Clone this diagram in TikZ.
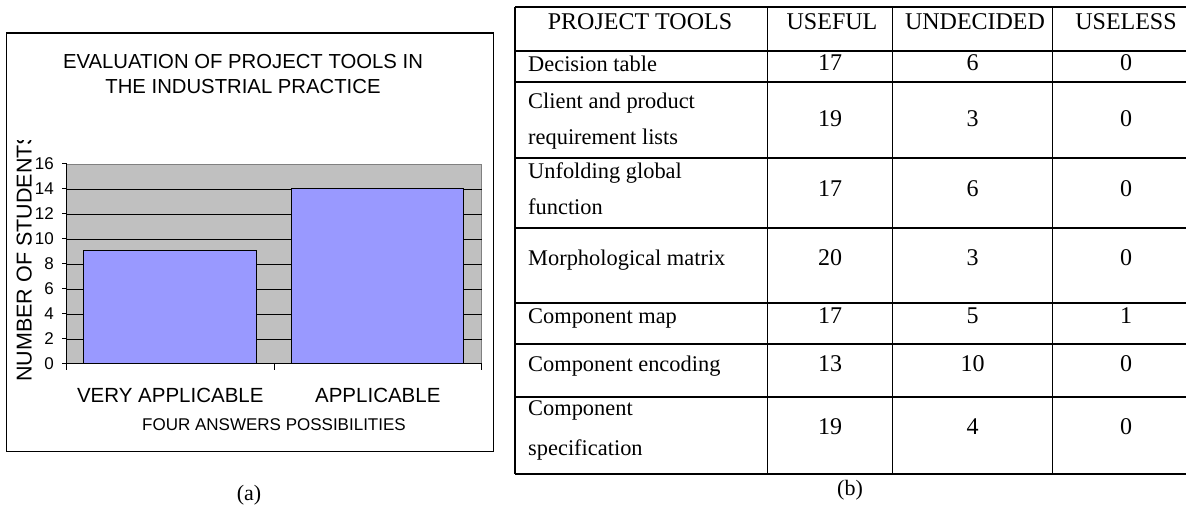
\documentclass[tikz,border=0pt]{standalone}
\usepackage{fontspec}
\setmainfont{Liberation Serif}
\newfontfamily\chartfont{Liberation Sans}

\definecolor{plotgray}{HTML}{C0C0C0}
\definecolor{axisgray}{HTML}{808080}
\definecolor{barblue}{HTML}{9999FF}

\tikzset{
  chartframe/.style={draw=black, line width=1.3pt},
  plotbg/.style={fill=plotgray, draw=axisgray, line width=1pt},
  gridline/.style={draw=black, line width=0.9pt},
  axisline/.style={draw=black, line width=1pt},
  barbox/.style={fill=barblue, draw=black, line width=1pt},
  ticklab/.style={font=\chartfont\fontsize{17}{17}\selectfont, anchor=east, inner sep=0pt},
  charttitle/.style={font=\chartfont\fontsize{20.3}{20.3}\selectfont, anchor=base, inner sep=0pt},
  axislab/.style={font=\chartfont\fontsize{21.5}{21.5}\selectfont, inner sep=0pt},
  catlab/.style={font=\chartfont\fontsize{20.5}{20.5}\selectfont, anchor=base, inner sep=0pt},
  xtitle/.style={font=\chartfont\fontsize{17}{17}\selectfont, anchor=base, inner sep=0pt},
  thick rule/.style={draw=black, line width=1.8pt},
  thin rule/.style={draw=black, line width=1.1pt},
  headtext/.style={font=\fontsize{24}{24}\selectfont, anchor=base, inner sep=0pt},
  celltext/.style={font=\fontsize{22.4}{22.4}\selectfont, anchor=base west, inner sep=0pt},
  cellnum/.style={font=\fontsize{24}{24}\selectfont, anchor=base, inner sep=0pt},
  caption/.style={font=\fontsize{22}{22}\selectfont, inner sep=0pt}
}

\begin{document}
\begin{tikzpicture}[x=1pt, y=-1pt]
\useasboundingbox (0,0) rectangle (1186,510);

% ---------------- (a) bar chart ----------------
\draw[chartframe] (6.7,33) rectangle (493.3,451.7);

\node[charttitle] (title1) at (243,69) {EVALUATION OF PROJECT TOOLS IN};
\node[charttitle] (title2) at (243,94) {THE INDUSTRIAL PRACTICE};

% plot area and horizontal grid
\draw[plotbg] (66.7,164.3) rectangle (481.7,364);
\foreach \k in {1,...,7} {
  \draw[gridline] (66.7,{364-25*\k}) -- (481.7,{364-25*\k});
}

% bars
\node[barbox, minimum width=172.4pt, minimum height=112.5pt, inner sep=0pt, anchor=south west]
  (bar1) at (83.3,364) {};
\node[barbox, minimum width=172pt, minimum height=175pt, inner sep=0pt, anchor=south west]
  (bar2) at (290.7,364) {};

% axes and ticks
\draw[axisline] (66.7,164.3) -- (66.7,364) -- (481.7,364);
\foreach \k in {0,...,8} {
  \draw[axisline] (62,{364-25*\k}) -- (66.7,{364-25*\k});
  \pgfmathtruncatemacro{\val}{2*\k}
  \node[ticklab] (tick\k) at (54,{364-25*\k}) {\val};
}
\foreach \xx in {66.7,274,481.7} {
  \draw[axisline] (\xx,364) -- (\xx,370);
}

% axis titles
\begin{scope}
  \clip (0,141) rectangle (60,452);
  \node[axislab, rotate=90, anchor=base west] (ytitle) at (31.5,382) {NUMBER OF STUDENTS};
\end{scope}
\node[catlab] (cat1) at (170.3,402.3) {VERY APPLICABLE};
\node[catlab] (cat2) at (377.8,402.3) {APPLICABLE};
\node[xtitle] (xtitle) at (274,431) {FOUR ANSWERS POSSIBILITIES};

\node[caption] (capa) at (249,495) {(a)};

% ---------------- (b) table ----------------
% horizontal rules
\foreach \yy in {7.3,50.7,81.7,157.7,228.3,302.7,396.7,474.3} {
  \draw[thick rule] (515,\yy) -- (1200,\yy);
}
\draw[thin rule] (515,344) -- (1200,344);
% vertical rules
\draw[thick rule] (515,7.3) -- (515,474.3);
\foreach \xx in {767.7,892.7,1052.7} {
  \draw[thin rule] (\xx,7.3) -- (\xx,474.3);
}

% header
\node[headtext] (h1) at (640,29.3) {PROJECT TOOLS};
\node[headtext] (h2) at (832,29.3) {USEFUL};
\node[headtext] (h3) at (975,29.3) {UNDECIDED};
\node[headtext] (h4) at (1126,29.3) {USELESS};

% first column
\node[celltext] (r1) at (528,71.7) {Decision table};
\node[celltext] (r2a) at (528,108.5) {Client and product};
\node[celltext] (r2b) at (528,145) {requirement lists};
\node[celltext] (r3a) at (528,178.3) {Unfolding global};
\node[celltext] (r3b) at (528,215) {function};
\node[celltext] (r4) at (528,265.7) {Morphological matrix};
\node[celltext] (r5) at (528,323.3) {Component map};
\node[celltext] (r6) at (528,371.7) {Component encoding};
\node[celltext] (r7a) at (528,415) {Component};
\node[celltext] (r7b) at (528,455) {specification};

% counts
\foreach \yy/\a/\b/\c [count=\i] in {71/17/6/0, 127/19/3/0, 196.7/17/6/0, 265.7/20/3/0,
                                     323.3/17/5/1, 371.7/13/10/0, 435/19/4/0} {
  \node[cellnum] (u\i) at (830.2,\yy) {\a};
  \node[cellnum] (d\i) at (972.7,\yy) {\b};
  \node[cellnum] (s\i) at (1126,\yy) {\c};
}

\node[caption] (capb) at (850,490) {(b)};

\end{tikzpicture}
\end{document}
